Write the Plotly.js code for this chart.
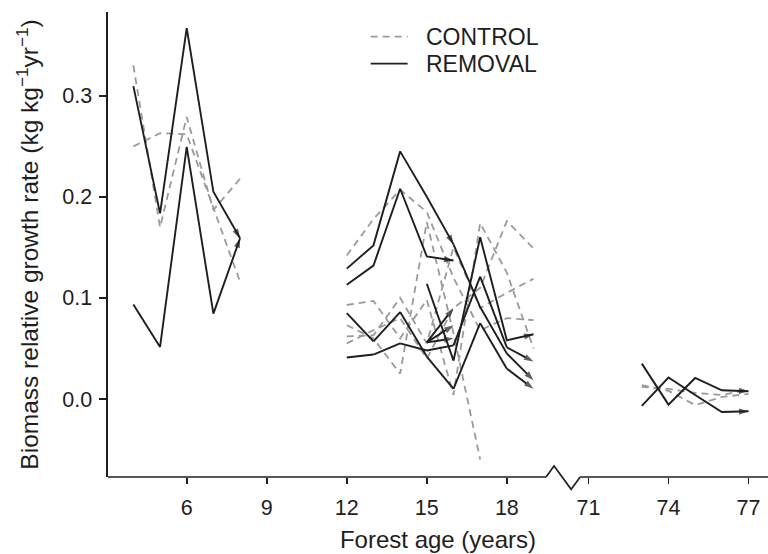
<!DOCTYPE html>
<html>
<head>
<meta charset="utf-8">
<script src="https://cdn.plot.ly/plotly-3.0.1.min.js"></script>
<style>html,body{margin:0;padding:0;background:#fff;}#chart{width:768px;height:554px;}</style>
</head>
<body>
<div id="chart"></div>
<script>
// ---------------- DATA ----------------
const agesYoung = [4, 5, 6, 7, 8];
const agesMid = [12, 13, 14, 15, 16, 17, 18, 19];
const agesOld = [73, 74, 75, 76, 77];

// CONTROL plots (dashed grey)
const ctlY1 = [0.330, 0.170, 0.279, 0.187, 0.218];
const ctlY2 = [0.250, 0.263, 0.262, 0.190, 0.116];
const ctlM1 = [0.142, 0.178, 0.207, 0.185, 0.120, 0.068, 0.080, 0.078];
const ctlM2 = [0.093, 0.097, 0.060, 0.098, 0.004, 0.174, 0.125, 0.050];
const ctlM3 = [0.073, 0.060, 0.025, 0.175, 0.065, -0.060, null, null];
const ctlM4 = [0.062, 0.063, 0.100, 0.055, 0.150, 0.090, 0.105, 0.119];
const ctlM5 = [0.055, 0.068, 0.080, 0.040, 0.090, 0.110, 0.176, 0.149];
const ctlO1 = [0.0136, 0.008, -0.006, 0.002, 0.005];
const ctlO2 = [0.012, 0.010, 0.006, 0.004, 0.009];

// REMOVAL plots (solid black, arrow at last census)
const remY1 = [0.3095, 0.1836, 0.367, 0.205, 0.159];
const remY2 = [0.0935, 0.0515, 0.2495, 0.0845, 0.159];
const remM1 = [0.129, 0.152, 0.245, 0.200, 0.153, null, null, null];
const remM2 = [0.113, 0.132, 0.208, 0.141, 0.137, null, null, null];
const remM3 = [0.085, 0.057, 0.086, 0.042, 0.010, 0.075, 0.030, 0.010];
const remM4 = [0.041, 0.044, 0.055, 0.048, 0.053, 0.121, 0.051, 0.037];
const remM5 = [null, null, null, 0.114, 0.038, 0.160, 0.058, 0.064];
const remM6 = [null, null, null, 0.056, 0.090, null, null, null];
const remM7 = [null, null, null, 0.056, 0.073, null, null, null];
const remM8 = [null, null, null, null, 0.153, 0.091, 0.045, 0.0185];
const remM9 = [null, null, null, 0.056, 0.060, null, null, null];
const remO1 = [0.035, -0.0056, 0.0208, 0.0086, 0.0076];
const remO2 = [-0.0069, 0.0212, 0.004, -0.0129, -0.0122];

const tickAges = [6, 9, 12, 15, 18, 71, 74, 77];
const yTicks = [0.0, 0.1, 0.2, 0.3];

// ---------------- AXIS BREAK ----------------
const BREAK_FROM = 71, BREAK_TO = 21.06; // age 71 drawn at position 21.06
function xpos(age) { return age >= 50 ? age - BREAK_FROM + BREAK_TO : age; }
const XR = [3.049, 27.79];
const YR = [-0.0772, 0.3829];
function px(v) { return (v - XR[0]) / (XR[1] - XR[0]); }

const INK = '#1e1e1e';
const GREY = '#9a9a9a';
const FONT = 'Liberation Sans, Arial, sans-serif';
const traces = [];

function addSeries(ages, vals, isRemoval) {
  const x = ages.map(xpos);
  let last = -1;
  vals.forEach((v, i) => { if (v !== null) last = i; });
  const tr = {
    type: 'scatter', x: x, y: vals, showlegend: false, hoverinfo: 'skip',
    line: isRemoval ? {color: INK, width: 1.9} : {color: GREY, width: 1.8, dash: '7px,5px'},
    mode: isRemoval ? 'lines+markers' : 'lines'
  };
  if (isRemoval) {
    tr.marker = {
      symbol: 'arrow', angleref: 'previous', color: INK,
      size: vals.map((v, i) => i === last ? 10 : 0),
      line: {width: 0}
    };
  }
  traces.push(tr);
}

[[agesYoung, ctlY1], [agesYoung, ctlY2], [agesMid, ctlM1], [agesMid, ctlM2], [agesMid, ctlM3],
 [agesMid, ctlM4], [agesMid, ctlM5], [agesOld, ctlO1], [agesOld, ctlO2]].forEach(s => addSeries(s[0], s[1], false));
[[agesYoung, remY1], [agesYoung, remY2], [agesMid, remM1], [agesMid, remM2], [agesMid, remM3],
 [agesMid, remM4], [agesMid, remM5], [agesMid, remM6], [agesMid, remM7], [agesMid, remM8], [agesMid, remM9],
 [agesOld, remO1], [agesOld, remO2]].forEach(s => addSeries(s[0], s[1], true));

// ---------------- LAYOUT ----------------
const zig = [19.47, 19.77, 20.41, 20.75];
const LEG_Y1 = 0.947, LEG_Y2 = 0.889;
const shapes = [
  {type: 'line', xref: 'paper', yref: 'paper', x0: 0, x1: px(zig[0]), y0: 0, y1: 0, line: {color: INK, width: 1.6}},
  {type: 'path', xref: 'paper', yref: 'paper',
   path: 'M' + px(zig[0]) + ',0 L' + px(zig[1]) + ',0.0237 L' + px(zig[2]) + ',-0.0265 L' + px(zig[3]) + ',0',
   line: {color: INK, width: 1.6}},
  {type: 'line', xref: 'paper', yref: 'paper', x0: px(zig[3]), x1: 1, y0: 0, y1: 0, line: {color: INK, width: 1.6}},
  // legend samples
  {type: 'line', xref: 'paper', yref: 'paper', x0: 0.398, x1: 0.454, y0: LEG_Y1, y1: LEG_Y1, line: {color: GREY, width: 1.8, dash: '7px,5px'}},
  {type: 'line', xref: 'paper', yref: 'paper', x0: 0.398, x1: 0.454, y0: LEG_Y2, y1: LEG_Y2, line: {color: INK, width: 1.9}}
];
const annotations = [
  {xref: 'paper', yref: 'paper', x: 0.479, y: LEG_Y1, xanchor: 'left', yanchor: 'middle', text: 'CONTROL', showarrow: false,
   font: {family: FONT, size: 23, color: INK}},
  {xref: 'paper', yref: 'paper', x: 0.479, y: LEG_Y2, xanchor: 'left', yanchor: 'middle', text: 'REMOVAL', showarrow: false,
   font: {family: FONT, size: 23, color: INK}}
];

const layout = {
  width: 768, height: 554,
  margin: {l: 108, r: 0, t: 12, b: 77, pad: 0},
  paper_bgcolor: '#fff', plot_bgcolor: '#fff',
  font: {family: FONT, color: INK, size: 21},
  showlegend: false,
  xaxis: {
    range: XR, showgrid: false, zeroline: false, showline: false,
    tickmode: 'array', tickvals: tickAges.map(xpos), ticktext: tickAges.map(String),
    ticks: 'outside', ticklen: 6, tickwidth: 1.6, tickcolor: INK,
    ticklabelstandoff: 5,
    tickfont: {size: 21.5, color: INK},
    title: {text: 'Forest age (years)', font: {size: 24, color: INK}, standoff: 12},
    automargin: false
  },
  yaxis: {
    range: YR, showgrid: false, zeroline: false, showline: true, linecolor: INK, linewidth: 1.6,
    tickmode: 'array', tickvals: yTicks, ticktext: yTicks.map(v => v.toFixed(1)),
    ticks: 'outside', ticklen: 7, tickwidth: 1.6, tickcolor: INK,
    ticklabelstandoff: 3,
    tickfont: {size: 21.5, color: INK},
    title: {text: 'Biomass relative growth rate (kg kg<sup>\u22121</sup>yr<sup>\u22121</sup>)', font: {size: 24.5, color: INK}, standoff: 16},
    automargin: false
  },
  shapes: shapes,
  annotations: annotations
};

Plotly.newPlot('chart', traces, layout, {staticPlot: true, displayModeBar: false});
</script>
</body>
</html>
